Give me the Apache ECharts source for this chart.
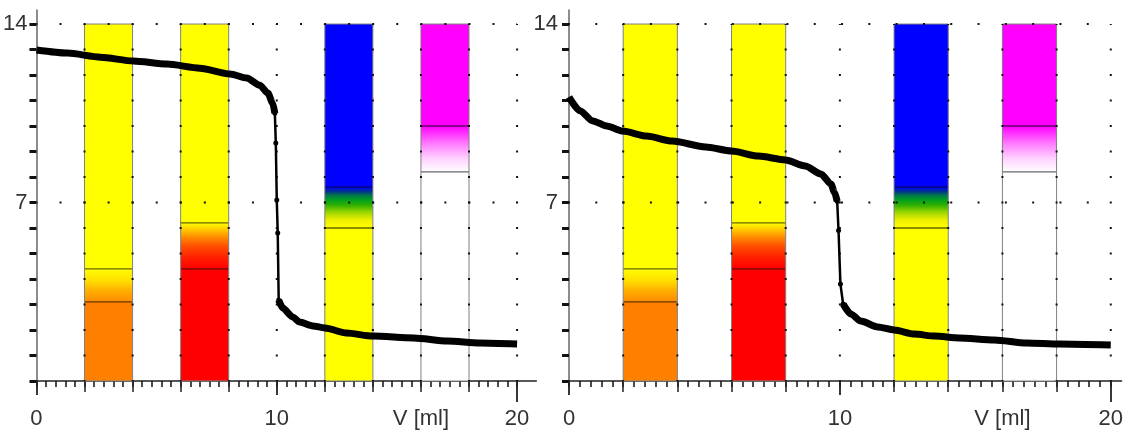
<!DOCTYPE html>
<html>
<head>
<meta charset="utf-8">
<script src="https://cdn.jsdelivr.net/npm/echarts@6/dist/echarts.min.js"></script>
<style>
html,body{margin:0;padding:0;background:#fff;}
#chart{width:1126px;height:430px;}
</style>
</head>
<body>
<div id="chart"></div>
<script>
// ---------------- DATA ----------------
// Left panel: strong base titrated with strong acid
const leftV  = [0, 1.29, 2.66, 4.03, 5.43, 6.8, 8.05, 8.75, 9.29, 9.63, 9.83, 9.92, 9.96, 10.0, 10.04, 10.08, 10.25, 10.66, 10.95, 11.5, 12.0, 12.9, 14.0, 15.7, 17.1, 18.45, 20.0];
const leftPH = [12.98, 12.86, 12.7, 12.55, 12.43, 12.27, 12.04, 11.88, 11.6, 11.29, 10.9, 10.5, 9.33, 7.1, 5.8, 3.18, 2.86, 2.51, 2.31, 2.16, 2.08, 1.88, 1.76, 1.69, 1.57, 1.49, 1.45];
// Right panel: weak base titrated with strong acid
const rightV  = [0, 0.4, 0.88, 1.39, 1.98, 2.86, 3.81, 5.05, 6.0, 6.99, 7.99, 8.72, 9.3, 9.67, 9.8, 9.9, 9.95, 10.02, 10.12, 10.4, 10.77, 11.4, 12.0, 12.75, 13.5, 14.4, 15.7, 16.9, 18.1, 20.0];
const rightPH = [11.14, 10.6, 10.2, 10.0, 9.8, 9.61, 9.41, 9.18, 9.02, 8.82, 8.67, 8.43, 8.12, 7.73, 7.4, 7.05, 5.9, 3.8, 3.02, 2.63, 2.35, 2.12, 2.0, 1.84, 1.76, 1.69, 1.61, 1.49, 1.45, 1.41];

// Indicator bars (same in both panels)
const indicatorNames  = ['Methyl orange', 'Methyl red', 'Bromothymol blue', 'Phenolphthalein'];
const indicatorVStart = [2, 6, 12, 16];
const indicatorVEnd   = [4, 8, 14, 18];
const transitionLow   = [3.1, 4.4, 6.0, 8.2];
const transitionHigh  = [4.4, 6.2, 7.6, 10.0];

const pHMin = 0, pHMax = 14;
const vMin = 0, vMax = 20;
const yTickValues  = [0,1,2,3,4,5,6,7,8,9,10,11,12,13,14];
const yLabelValues = [7, 14];
const xMediumTicks = [2, 4, 6, 8, 12, 14, 16, 18];
const xMajorTicks  = [0, 10];
const xEndTicks    = [20];
const xLabelValues = [0, 10, 16, 20];
const xAxisTitle   = 'V [ml]';
const xAxisTitleAt = 16;
const dottedPH = [7, 14];
const dottedV  = [2, 4, 6, 8, 10, 12, 14, 16, 18, 20];
const minorStep = 0.4;

// ---------------- STYLE ----------------
const indicatorStyles = [
  {low:'#ff8000', high:'#ffff00', stops:[[0,'#ff8a00'],[0.35,'#ffb000'],[0.65,'#ffe000'],[1,'#ffff00']]},
  {low:'#ff0000', high:'#ffff00', stops:[[0,'#ff0000'],[0.25,'#ff2000'],[0.5,'#ff5000'],[0.7,'#ff9000'],[0.85,'#ffc800'],[1,'#ffff00']]},
  {low:'#ffff00', high:'#0000ff', stops:[[0,'#ffff00'],[0.19,'#f0f000'],[0.375,'#a0d800'],[0.56,'#30b000'],[0.69,'#00a020'],[0.81,'#007050'],[0.9,'#003090'],[1,'#0000ff']]},
  {low:'#ffffff', high:'#ff00ff', stops:[[0,'#ffffff'],[0.3,'#ffd0ff'],[0.6,'#ff80ff'],[0.8,'#ff40ff'],[1,'#ff00ff']]}
];

const panels = [
  {v:leftV,  ph:leftPH,  left:36,  width:500.3, xMax:20.8, font:"'Liberation Sans Narrow','Arial Narrow','Liberation Sans',Arial,sans-serif", yMargin:9},
  {v:rightV, ph:rightPH, left:569, width:557,   xMax:20.4, font:"'Liberation Sans',Arial,sans-serif", yMargin:11}
];
const gridTop = 10, gridHeight = 371, yMax = 14.55;
const pxPerPH = gridHeight / yMax;
const fontSize = 22;
const textColor = '#333';

const minorTicks = [];
for (let k = 0; k * minorStep <= vMax + 1e-9; k++) minorTicks.push(Math.round(k * minorStep * 10) / 10);

// ---------------- OPTION ----------------
const grid = [], xAxis = [], yAxis = [], series = [];

panels.forEach((p, gi) => {
  grid.push({left:p.left, top:gridTop, width:p.width, height:gridHeight, containLabel:false});
  const base = {type:'value', gridIndex:gi, min:vMin, max:p.xMax, position:'bottom',
    axisLine:{show:false, onZero:false}, axisLabel:{show:false}, splitLine:{show:false}};
  const xi0 = xAxis.length;
  xAxis.push(Object.assign({}, base, {
    axisLine:{show:true, onZero:false, lineStyle:{color:'#222', width:1.5}},
    axisTick:{show:true, length:6, customValues:minorTicks, lineStyle:{color:'#111', width:1.5}}
  }));
  xAxis.push(Object.assign({}, base, {
    axisTick:{show:true, length:11, customValues:xMediumTicks, lineStyle:{color:'#222', width:1.5}}
  }));
  xAxis.push(Object.assign({}, base, {
    axisTick:{show:true, length:14, customValues:xMajorTicks, lineStyle:{color:'#222', width:1.8}},
    axisLabel:{show:true, customValues:xLabelValues, margin:27, fontSize:fontSize, fontFamily:p.font, color:textColor,
      formatter: v => (Math.abs(v - xAxisTitleAt) < 1e-9 ? xAxisTitle : String(v))}
  }));
  xAxis.push(Object.assign({}, base, {
    axisTick:{show:true, length:21, customValues:xEndTicks, lineStyle:{color:'#222', width:1.8}}
  }));
  yAxis.push({type:'value', gridIndex:gi, min:pHMin, max:yMax, position:'left',
    axisLine:{show:true, onZero:false, lineStyle:{color:'#666', width:1.5}},
    axisTick:{show:true, length:7, customValues:yTickValues, lineStyle:{color:'#111', width:3}},
    axisLabel:{show:true, customValues:yLabelValues, margin:p.yMargin, fontSize:fontSize, fontFamily:p.font, color:textColor},
    splitLine:{show:false}});

  // indicator bars
  series.push({
    type:'custom', xAxisIndex:xi0, yAxisIndex:gi, z:1, silent:true, clip:false,
    data: indicatorNames.map((n, i) => [indicatorVStart[i], indicatorVEnd[i], transitionLow[i], transitionHigh[i], i]),
    encode:{x:[0,1], y:[2,3]},
    renderItem: function (params, api) {
      const x0 = api.value(0), x1 = api.value(1), lo = api.value(2), hi = api.value(3), idx = api.value(4);
      const st = indicatorStyles[idx];
      const bl = api.coord([x0, pHMin]), tr = api.coord([x1, pHMax]);
      const yLo = api.coord([x0, lo])[1], yHi = api.coord([x0, hi])[1];
      const X = bl[0], W = tr[0] - bl[0];
      return {type:'group', children:[
        {type:'rect', shape:{x:X, y:yLo - 0.5, width:W, height:bl[1] - yLo + 0.5}, style:{fill:st.low}},
        {type:'rect', shape:{x:X, y:tr[1], width:W, height:yHi - tr[1] + 0.5}, style:{fill:st.high}},
        {type:'rect', shape:{x:X, y:yHi, width:W, height:yLo - yHi},
          style:{fill:{type:'linear', x:0, y:1, x2:0, y2:0, colorStops:st.stops.map(s => ({offset:s[0], color:s[1]}))}}},
        {type:'line', shape:{x1:X, y1:yLo, x2:X + W, y2:yLo}, style:{stroke:'rgba(0,0,0,0.6)', lineWidth:1.3}},
        {type:'line', shape:{x1:X, y1:yHi, x2:X + W, y2:yHi}, style:{stroke:'rgba(0,0,0,0.6)', lineWidth:1.3}},
        {type:'rect', shape:{x:X, y:tr[1], width:W, height:bl[1] - tr[1]}, style:{fill:null, stroke:'#808080', lineWidth:1}}
      ]};
    }
  });

  // dotted grid
  const pxPerV = p.width / p.xMax;
  dottedV.forEach(v => {
    series.push({type:'line', xAxisIndex:xi0, yAxisIndex:gi, z:3, silent:true, symbol:'none',
      data:[[v, pHMin],[v, pHMax]],
      lineStyle:{color:'#111', width:2, type:[2, pxPerPH - 2], dashOffset:1}});
  });
  dottedPH.forEach(h => {
    series.push({type:'line', xAxisIndex:xi0, yAxisIndex:gi, z:3, silent:true, symbol:'none',
      data:[[vMin, h],[vMax, h]],
      lineStyle:{color:'#111', width:2, type:[2, pxPerV - 2], dashOffset:1}});
  });

  // titration curve: thick where gentle, thin across the steep jump
  const steepLimit = 6;
  const segSteep = [];
  for (let i = 0; i < p.v.length - 1; i++) {
    segSteep.push(Math.abs((p.ph[i+1] - p.ph[i]) / (p.v[i+1] - p.v[i])) > steepLimit);
  }
  let run = null, runSteep = null;
  const runs = [];
  segSteep.forEach((s, i) => {
    if (run === null || s !== runSteep) {
      if (run) runs.push({steep:runSteep, pts:run});
      run = [[p.v[i], p.ph[i]]]; runSteep = s;
    }
    run.push([p.v[i+1], p.ph[i+1]]);
  });
  if (run) runs.push({steep:runSteep, pts:run});
  runs.forEach(r => {
    if (r.steep) {
      series.push({type:'line', xAxisIndex:xi0, yAxisIndex:gi, z:6, silent:true,
        data:r.pts, smooth:false, symbol:'circle', symbolSize:5, showSymbol:true,
        itemStyle:{color:'#000'}, lineStyle:{color:'#000', width:2.5}});
    } else {
      series.push({type:'line', xAxisIndex:xi0, yAxisIndex:gi, z:5, silent:true,
        data:r.pts, smooth:0.25, smoothMonotone:'x', symbol:'none',
        lineStyle:{color:'#000', width:7, join:'round'}});
    }
  });
});

const chart = echarts.init(document.getElementById('chart'), null, {renderer:'canvas'});
chart.setOption({animation:false, backgroundColor:'#fff', grid, xAxis, yAxis, series});
</script>
</body>
</html>
